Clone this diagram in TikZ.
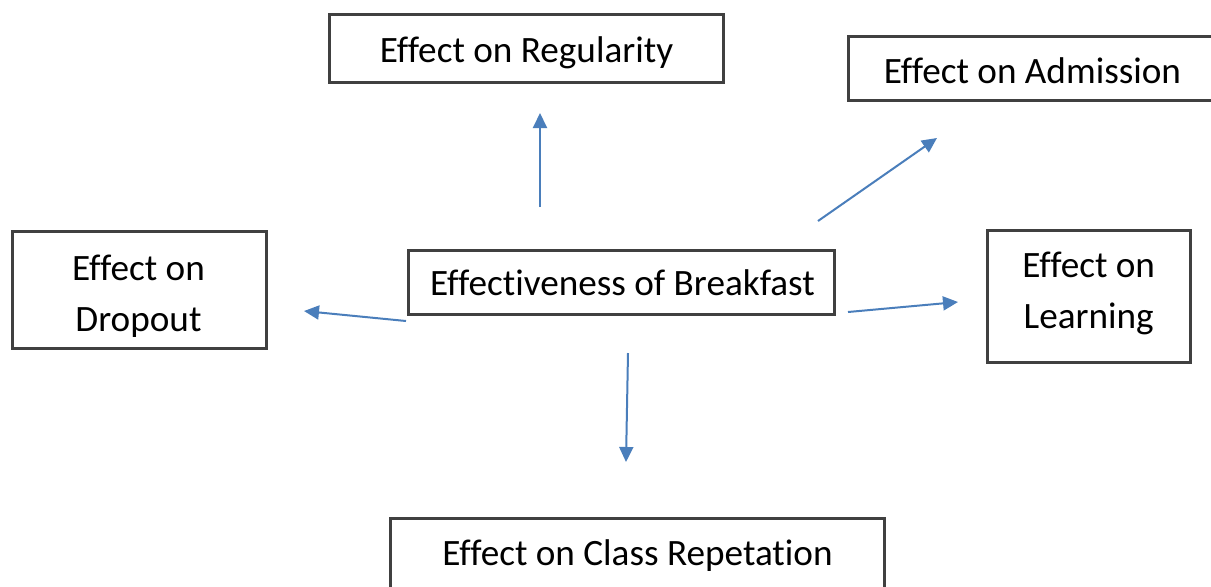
\documentclass[tikz,border=0pt]{standalone}
\usepackage{fontspec}
\setmainfont{Carlito}[Ligatures={NoCommon}]
\usetikzlibrary{arrows.meta}
\definecolor{boxline}{HTML}{404040}
\definecolor{arrowblue}{HTML}{4A7EBB}
\begin{document}
\begin{tikzpicture}[x=0.5pt,y=-0.5pt,
  box/.style={draw=boxline, line width=1.5pt, rectangle, inner sep=0pt},
  txt/.style={inner sep=0pt, anchor=base, font=\fontsize{18.6pt}{25.5pt}\selectfont},
  link/.style={draw=arrowblue, line width=1pt, -{Triangle[length=7.5pt,width=7pt]}}]
\useasboundingbox (0,0) rectangle (1211,586);
% boxes
\node[box, minimum width=197pt, minimum height=34pt] (reg) at (526.5,48.5) {};
\node[box, minimum width=184.5pt, minimum height=32pt] (adm) at (1033,68.5) {};
\node[box, minimum width=127pt, minimum height=58.5pt] (drop) at (139.5,290) {};
\node[box, minimum width=213pt, minimum height=32pt] (brk) at (621.5,282) {};
\node[box, minimum width=101.5pt, minimum height=66pt] (learn) at (1089,296.5) {};
\node[box, minimum width=247pt, minimum height=38pt] (rep) at (637.5,556) {};
% texts
\node[txt] (regt) at (526.5,62) {Effect on Regularity};
\node[txt] (admt) at (1032.5,83) {Effect on Admission};
\node[txt] (dropt1) at (138.5,280) {Effect on};
\node[txt] (dropt2) at (138.5,331) {Dropout};
\node[txt] (brkt) at (622.5,295) {Effectiveness of Breakfast};
\node[txt] (learnt1) at (1088.7,277) {Effect on};
\node[txt] (learnt2) at (1088.7,328) {Learning};
\node[txt] (rept) at (637.5,565) {Effect on Class Repetation};
% arrows
\coordinate (a1s) at (540,207); \coordinate (a1e) at (540,113);
\coordinate (a2s) at (818,221); \coordinate (a2e) at (937,138);
\coordinate (a3s) at (406,321); \coordinate (a3e) at (304,311);
\coordinate (a4s) at (848,312); \coordinate (a4e) at (958,302);
\coordinate (a5s) at (628,353); \coordinate (a5e) at (626,462);
\draw[link] (a1s) -- (a1e);
\draw[link] (a2s) -- (a2e);
\draw[link] (a3s) -- (a3e);
\draw[link] (a4s) -- (a4e);
\draw[link] (a5s) -- (a5e);
\end{tikzpicture}
\end{document}
